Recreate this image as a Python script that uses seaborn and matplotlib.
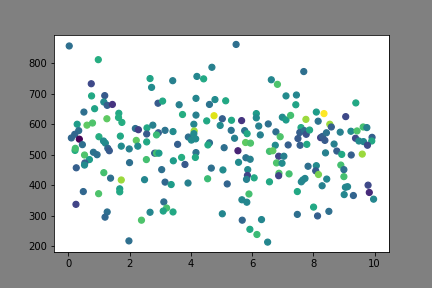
import matplotlib
matplotlib.use("Agg")
import matplotlib.pyplot as plt
import seaborn as sns
import pandas as pd

x_vals = [0.03, 0.98, 0.75, 0.76, 1.19, 1.16, 1.27, 1.44, 0.86, 0.51, 1.26, 1.65, 1.64, 1.75, 0.29, 0.61, 0.79,
          0.34, 0.21, 0.10, 0.36, 0.46, 0.22, 0.23, 1.00, 1.15, 1.21, 1.29, 1.34, 1.70, 1.73, 0.53, 0.82, 0.94,
          0.69, 0.54, 0.53, 0.26, 1.16, 1.38, 1.73, 1.68, 1.68, 0.49, 0.99, 0.25, 1.27, 1.20,
          2.67, 3.41, 2.72, 2.93, 3.08, 3.62, 3.73, 2.19, 2.29, 2.57, 2.76, 2.56, 2.94, 2.88, 3.16, 3.42, 2.22,
          2.27, 2.56, 1.99, 3.57, 3.92, 2.82, 2.88, 2.96, 3.81, 3.43, 3.70, 2.55, 2.00, 3.05, 2.49, 3.16, 3.36,
          3.91, 3.12, 3.21, 3.10, 3.42, 2.67, 2.39, 1.98,
          5.48, 4.69, 4.20, 4.42, 4.17, 4.79, 5.14, 4.61, 4.17, 4.76, 5.03, 5.33, 5.66, 4.52, 4.10, 4.96, 6.14,
          6.14, 4.11, 4.10, 5.32, 5.76, 5.84, 4.02, 4.16, 5.43, 4.61, 4.56, 5.79, 5.95, 5.09, 5.54, 4.17, 4.15,
          5.56, 5.80, 5.94, 4.67, 5.05, 5.86, 5.85, 5.82, 6.07, 4.55, 5.19, 5.90, 5.67, 5.83, 5.03, 5.68, 5.93,
          6.16,
          7.69, 6.63, 6.83, 7.11, 7.45, 7.43, 6.99, 7.11, 7.26, 7.76, 8.10, 8.35, 8.16, 6.53, 6.22, 6.27, 6.78,
          6.92, 7.60, 7.56, 7.71, 7.77, 7.88, 7.50, 8.24, 8.30, 7.57, 7.79, 7.18, 6.76, 6.57, 6.68, 6.87, 7.04,
          6.80, 6.98, 6.88, 6.87, 7.21, 7.83, 8.10, 8.08, 8.17, 8.29, 7.61, 7.66, 7.73, 6.57, 7.48, 8.01, 7.48,
          8.14, 6.31, 6.51,
          9.39, 9.06, 8.54, 8.59, 8.43, 8.88, 9.23, 9.43, 9.63, 9.75, 9.92, 8.38, 9.38, 9.49, 9.64, 9.91, 9.77,
          8.68, 8.40, 8.77, 8.93, 9.24, 9.60, 8.90, 9.00, 9.00, 8.44, 9.05, 9.12, 9.01, 9.31, 9.79, 9.83, 9.97,
          8.51]

y_vals = [857, 812, 733, 693, 694, 673, 662, 665, 651, 640, 618, 636, 622, 606, 600, 597, 604,
          579, 567, 555, 551, 533, 514, 521, 559, 545, 538, 521, 513, 561, 528, 499, 508, 500,
          484, 473, 466, 457, 441, 423, 417, 388, 378, 379, 372, 337, 312, 295,
          750, 743, 721, 669, 676, 664, 632, 586, 582, 588, 597, 568, 572, 565, 580, 576, 547,
          528, 542, 519, 534, 558, 505, 505, 505, 468, 480, 491, 484, 474, 451, 418, 410, 402,
          407, 345, 325, 315, 312, 311, 285, 217,
          862, 787, 757, 749, 685, 681, 677, 665, 630, 628, 618, 613, 612, 611, 600, 596, 635,
          621, 578, 569, 580, 579, 569, 548, 552, 554, 539, 532, 540, 538, 523, 513, 507, 491,
          475, 490, 485, 456, 450, 451, 432, 419, 424, 421, 404, 371, 352, 344, 306, 285, 255,
          238,
          773, 746, 731, 693, 696, 664, 623, 614, 629, 616, 640, 635, 610, 601, 594, 565, 575,
          559, 589, 573, 579, 567, 581, 553, 556, 560, 531, 534, 532, 531, 511, 513, 495, 495,
          473, 472, 439, 431, 437, 462, 464, 447, 435, 398, 411, 417, 422, 411, 379, 328, 304,
          299, 287, 213,
          670, 625, 600, 591, 572, 574, 577, 578, 591, 589, 557, 547, 554, 545, 543, 545, 531,
          535, 506, 512, 501, 499, 502, 466, 451, 428, 420, 393, 395, 369, 366, 400, 376, 354,
          314]

c_vals = [0.36, 0.62, 0.22, 0.60, 0.28, 0.48, 0.30, 0.15, 0.58, 0.36, 0.75, 0.60, 0.62, 0.62, 0.55, 0.75, 0.72,
          0.36, 0.33, 0.33, 0.00, 0.36, 0.62, 0.70, 0.62, 0.48, 0.48, 0.33, 0.28, 0.60, 0.48, 0.72, 0.38, 0.36,
          0.55, 0.30, 0.48, 0.30, 0.70, 0.36, 0.85, 0.55, 0.60, 0.33, 0.72, 0.20, 0.36, 0.33,
          0.58, 0.43, 0.48, 0.28, 0.60, 0.43, 0.62, 0.36, 0.18, 0.60, 0.43, 0.28, 0.30, 0.68, 0.38, 0.48, 0.75,
          0.48, 0.60, 0.43, 0.30, 0.36, 0.30, 0.70, 0.55, 0.28, 0.55, 0.62, 0.70, 0.36, 0.36, 0.46, 0.33, 0.55,
          0.43, 0.36, 0.70, 0.58, 0.60, 0.46, 0.72, 0.36,
          0.36, 0.43, 0.46, 0.60, 0.46, 0.48, 0.60, 0.38, 0.43, 0.95, 0.30, 0.60, 0.15, 0.60, 0.46, 0.48, 0.55,
          0.48, 0.85, 0.48, 0.38, 0.38, 0.60, 0.48, 0.48, 0.43, 0.36, 0.60, 0.75, 0.72, 0.36, 0.10, 0.38, 0.60,
          0.48, 0.38, 0.43, 0.36, 0.48, 0.48, 0.20, 0.43, 0.60, 0.68, 0.32, 0.70, 0.46, 0.46, 0.46, 0.33, 0.60,
          0.68,
          0.36, 0.46, 0.72, 0.48, 0.46, 0.58, 0.48, 0.55, 0.70, 0.85, 0.55, 1.00, 0.38, 0.36, 0.43, 0.43, 0.36,
          0.72, 0.60, 0.30, 0.36, 0.25, 0.60, 0.28, 0.20, 0.30, 0.30, 0.60, 0.30, 0.48, 0.70, 0.75, 0.20, 0.43,
          0.72, 0.48, 0.72, 0.20, 0.70, 0.36, 0.48, 0.28, 0.80, 0.43, 0.46, 0.46, 0.46, 0.60, 0.60, 0.60, 0.36,
          0.30, 0.46, 0.46,
          0.60, 0.22, 0.85, 0.30, 0.38, 0.43, 0.48, 0.72, 0.70, 0.43, 0.30, 0.28, 0.22, 0.48, 0.46, 0.60, 0.22,
          0.43, 0.43, 0.30, 0.60, 0.30, 0.85, 0.70, 0.36, 0.70, 0.46, 0.46, 0.46, 0.46, 0.32, 0.22, 0.12, 0.46,
          0.36]

df = pd.DataFrame({"x": x_vals, "y": y_vals, "c": c_vals})

fig = plt.figure(figsize=(6, 4), dpi=72, facecolor="#808080")
ax = fig.add_axes([0.125, 0.125, 0.775, 0.755])
ax.set_facecolor("white")
sns.scatterplot(data=df, x="x", y="y", hue="c", palette="viridis", hue_norm=(0, 1),
                s=36, linewidth=1.2, edgecolor="face", legend=False, ax=ax)
ax.set_xlabel("")
ax.set_ylabel("")
ax.set_xticks([0, 2, 4, 6, 8, 10])
ax.set_yticks([200, 300, 400, 500, 600, 700, 800])
fig.savefig("out.png", dpi=72, facecolor=fig.get_facecolor())
